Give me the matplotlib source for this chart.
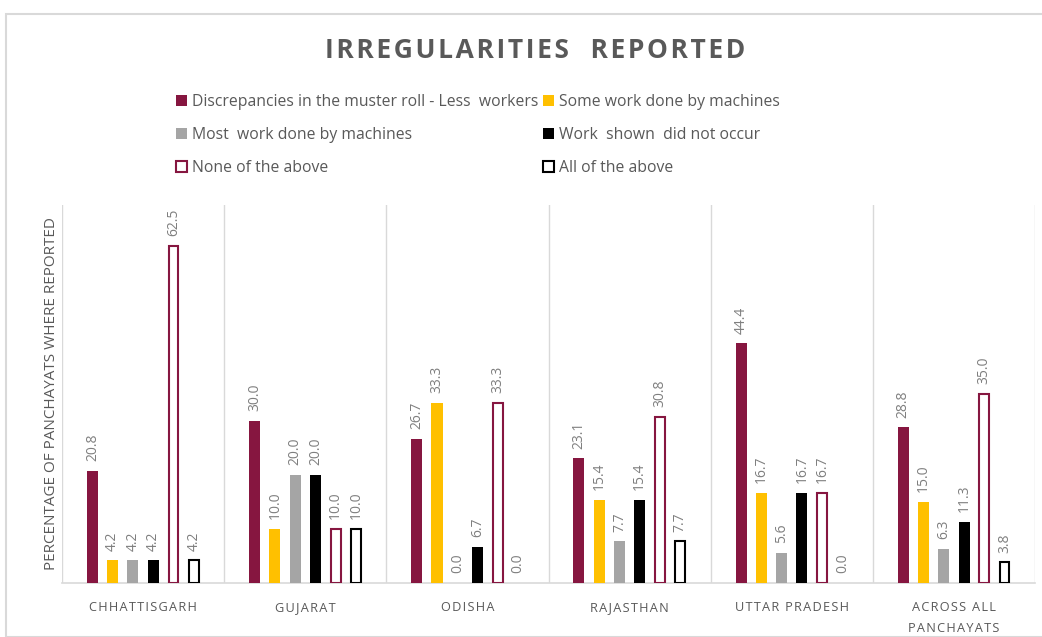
import matplotlib
matplotlib.use("Agg")
import matplotlib.pyplot as plt
import numpy as np
from matplotlib.patches import Patch, Rectangle

categories = ["CHHATTISGARH", "GUJARAT", "ODISHA", "RAJASTHAN", "UTTAR PRADESH", "ACROSS ALL\nPANCHAYATS"]
series_names = ["Discrepancies in the muster roll - Less  workers", "Some work done by machines",
                "Most  work done by machines", "Work  shown  did not occur",
                "None of the above", "All of the above"]
discrepancies = [20.8, 30.0, 26.7, 23.1, 44.4, 28.8]
some_machines = [4.2, 10.0, 33.3, 15.4, 16.7, 15.0]
most_machines = [4.2, 20.0, 0.0, 7.7, 5.6, 6.3]
not_occur = [4.2, 20.0, 6.7, 15.4, 16.7, 11.3]
none_above = [62.5, 10.0, 33.3, 30.8, 16.7, 35.0]
all_above = [4.2, 10.0, 0.0, 7.7, 0.0, 3.8]

series = [discrepancies, some_machines, most_machines, not_occur, none_above, all_above]
faces = ["#861640", "#FFC000", "#A5A5A5", "#000000", "white", "white"]
edges = ["#861640", "#FFC000", "#A5A5A5", "#000000", "#861640", "#000000"]
lws = [0, 0, 0, 0, 1.5, 1.5]

HS = "\u200a"
plt.rcParams['font.family'] = ['Open Sans', 'DejaVu Sans']
fig = plt.figure(figsize=(10.42, 6.37), dpi=100)
ax = fig.add_axes([62/1042, 1-583/637, (1035-62)/1042, (583-205)/637])

x = np.arange(len(categories))
step = 0.125
width = 0.068
txtc = "#7F7F7F"
for i, (vals, fc, ec, lw) in enumerate(zip(series, faces, edges, lws)):
    pos = x + (i - 2.5) * step
    w = width if lw == 0 else width - 0.008
    bars = ax.bar(pos, vals, width=w, color=fc, edgecolor=ec, linewidth=lw, zorder=3)
    for b, v in zip(bars, vals):
        if v == 0:
            b.set_linewidth(0)
    for p, v in zip(pos, vals):
        ax.annotate(f"{v:.1f}", (p, v), xytext=(0, 7), textcoords="offset points",
                    rotation=90, ha="center", va="bottom", fontsize=10, color=txtc)

ax.set_xlim(-0.5, len(categories) - 0.5)
ax.set_ylim(0, 70)
ax.set_yticks([])
ax.set_xticks(x)
ax.set_xticklabels([HS.join(list(c)).replace(HS + "\n" + HS, "\n") for c in categories],
                   fontsize=9.2, color="#595959", linespacing=1.75)
ax.tick_params(axis="x", length=0, pad=13)
for b in np.arange(-0.5, len(categories), 1.0):
    ax.axvline(b, color="#D9D9D9", lw=1, zorder=1)
for s in ["top", "right", "left"]:
    ax.spines[s].set_visible(False)
ax.spines["bottom"].set_color("#D9D9D9")
ax.spines["bottom"].set_linewidth(1.2)
ax.set_ylabel("PERCENTAGE OF PANCHAYATS WHERE REPORTED", fontsize=11, color="#595959", labelpad=2)

fig.text(535/1042, 1-50/637, HS.join(list("IRREGULARITIES  REPORTED")), ha="center", va="center",
         fontsize=19, fontweight="bold", color="#595959")

handles = [Patch(facecolor=f, edgecolor=e, linewidth=(1.5 if l else 0)) for f, e, l in zip(faces, edges, lws)]
order = [0, 2, 4, 1, 3, 5]
fig.legend([handles[i] for i in order], [series_names[i] for i in order], ncol=2,
           loc="upper left", bbox_to_anchor=(170/1042, 1-88/637), frameon=False,
           fontsize=11.3, labelcolor="#595959", handlelength=0.7, handleheight=0.7,
           handletextpad=0.3, columnspacing=0.3, labelspacing=1.08, borderaxespad=0)

fig.patches.append(Rectangle((6/1042, 0), 1.0, 1-14/637, transform=fig.transFigure,
                             fill=False, edgecolor="#D9D9D9", linewidth=1.5))

fig.savefig("out.png", dpi=100)
